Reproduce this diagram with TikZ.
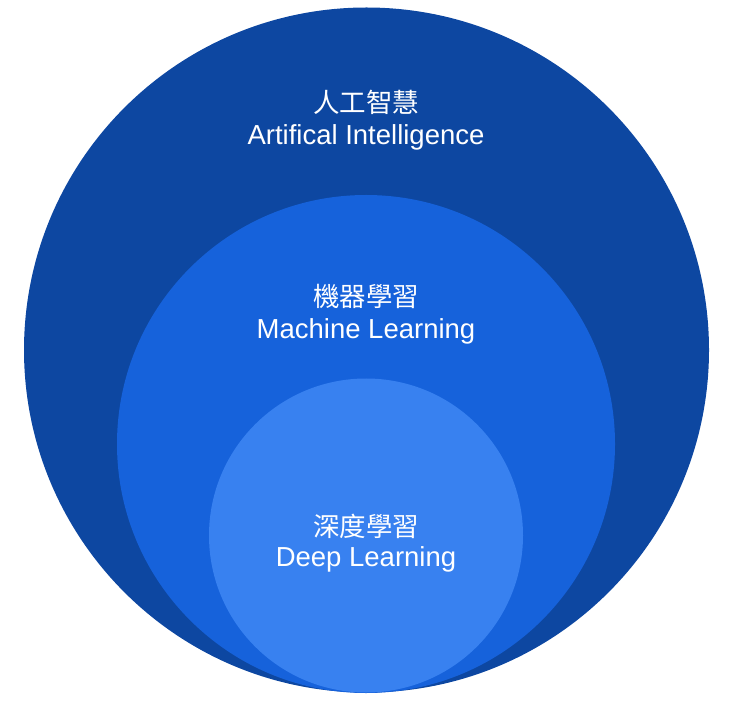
\documentclass[tikz,border=0pt]{standalone}
\usepackage{fontspec}
\setmainfont{Liberation Sans}
\newfontfamily\cjk{Noto Sans CJK TC}
\definecolor{aiblue}{HTML}{0D47A1}
\definecolor{mlblue}{HTML}{1662DB}
\definecolor{dlblue}{HTML}{3881F0}

\begin{document}
\begin{tikzpicture}[x=1pt,y=1pt,
                    zh/.style={anchor=base,inner sep=0pt,text=white,font=\cjk\fontsize{26.5pt}{30pt}\selectfont},
                    en/.style={anchor=base,inner sep=0pt,text=white,font=\fontsize{27.5pt}{32pt}\selectfont}]
  \path[use as bounding box] (0,0) rectangle (730,702);   % canvas 730x702 px
  % ---- nested circles, all touching at the bottom ----
  \fill[aiblue] (366.5,352.0) circle (342.5);   % px x[24,709]  y[8,692]
  \fill[mlblue] (366.0,258.0) circle (249.0);   % px x[117,615] y[196,692]
  \fill[dlblue] (366.0,166.5) circle (157.0);   % px x[209,523] y[379,692]
  % ---- labels ----
  \node[zh] (aizh) at (366,589) {人工智慧};
  \node[en] (aien) at (366,557) {Artifical Intelligence};
  \node[zh] (mlzh) at (366,395) {機器學習};
  \node[en] (mlen) at (366,363) {Machine Learning};
  \node[zh] (dlzh) at (366,166) {深度學習};
  \node[en] (dlen) at (366,136) {Deep Learning};
\end{tikzpicture}
\end{document}
